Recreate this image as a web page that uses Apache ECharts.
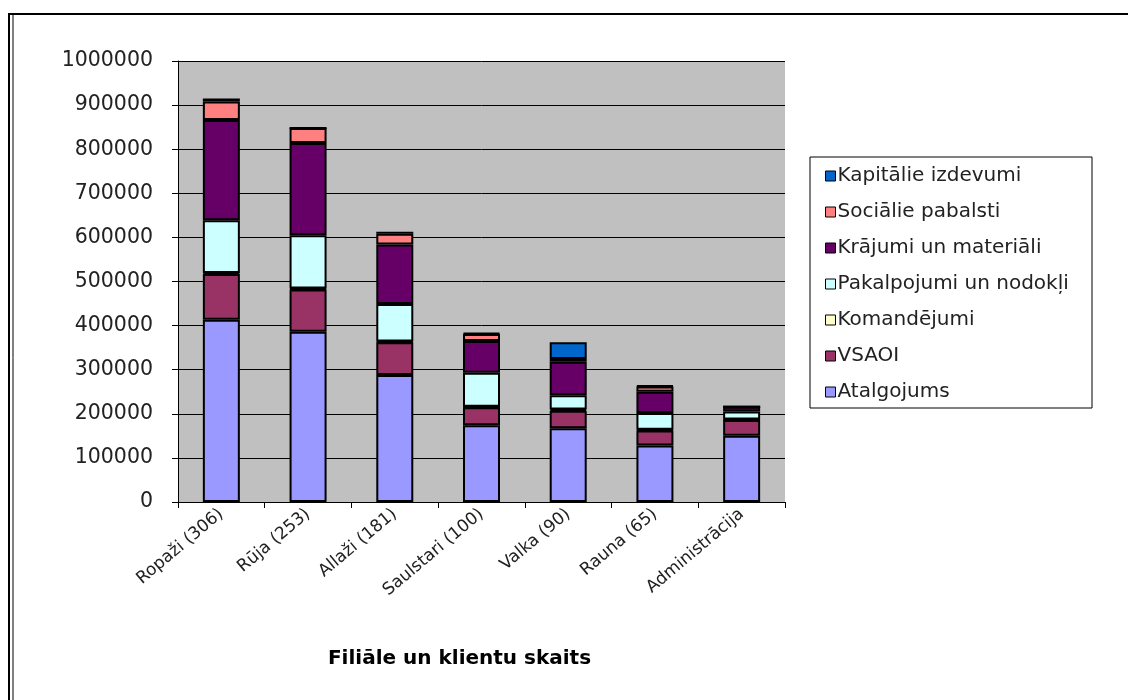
<!DOCTYPE html>
<html>
<head>
<meta charset="utf-8">
<script src="https://cdn.jsdelivr.net/npm/echarts@6/dist/echarts.min.js"></script>
<style>
html,body{margin:0;padding:0;background:#fff;}
#chart{width:1128px;height:700px;}
</style>
</head>
<body>
<div id="chart"></div>
<script>
const categories = ['Ropaži (306)','Rūja (253)','Allaži (181)','Saulstari (100)','Valka (90)','Rauna (65)','Administrācija'];
const atalgojums  = [413000, 386000, 288000, 174000, 167000, 128000, 150000];
const vsaoi       = [104000,  96000,  74000,  41000,  40000,  34000,  36000];
const komandejumi = [  2000,   2000,   2000,   1000,   3000,   2000,   1000];
const pakalpojumi = [120000, 121000,  85000,  77000,  32000,  38000,  18000];
const krajumi     = [227000, 209000, 135000,  72000,  76000,  48000,  11000];
const socialie    = [ 42000,  34000,  24000,  16000,   6000,  12000,      0];
const kapitalie   = [  7000,      0,   5000,   2000,  38000,   2000,      0];
const seriesNames = ['Atalgojums','VSAOI','Komandējumi','Pakalpojumi un nodokļi','Krājumi un materiāli','Sociālie pabalsti','Kapitālie izdevumi'];
const seriesData = [atalgojums, vsaoi, komandejumi, pakalpojumi, krajumi, socialie, kapitalie];
const seriesColors = ['#9999FF','#993366','#FFFFCC','#CCFFFF','#660066','#FF8080','#0066CC'];
const yTicks = {min: 0, max: 1000000, interval: 100000};
const xTitle = 'Filiāle un klientu skaits';

const chart = echarts.init(document.getElementById('chart'));
const font = 'DejaVu Sans';
const option = {
  backgroundColor: '#ffffff',
  animation: false,
  textStyle: {fontFamily: font},
  grid: {left: 178, top: 61, right: 343, bottom: 198, backgroundColor: '#C0C0C0', show: true, borderWidth: 0},
  xAxis: {
    type: 'category',
    data: categories,
    name: xTitle,
    nameLocation: 'middle',
    nameGap: 147,
    nameTextStyle: {fontSize: 20, fontWeight: 'bold', color: '#000', fontFamily: font, padding: [0, 44, 0, 0]},
    axisLine: {lineStyle: {color: '#000', width: 1}},
    axisTick: {show: true, alignWithLabel: false, length: 6, lineStyle: {color: '#000'}},
    axisLabel: {rotate: 40, fontSize: 17, color: '#222', margin: 10, fontFamily: font, interval: 0}
  },
  yAxis: {
    type: 'value',
    min: yTicks.min, max: yTicks.max, interval: yTicks.interval,
    axisLine: {show: true, lineStyle: {color: '#000', width: 1}},
    axisTick: {show: true, length: 6, lineStyle: {color: '#000'}},
    axisLabel: {fontSize: 20.5, color: '#222', margin: 25, fontFamily: font, formatter: v => String(v)},
    splitLine: {show: true, lineStyle: {color: '#000', width: 1}}
  },
  legend: {
    orient: 'vertical',
    left: 825,
    top: 166,
    padding: 0,
    itemWidth: 10,
    itemHeight: 10,
    itemGap: 16,
    icon: 'rect',
    data: seriesNames.slice().reverse(),
    textStyle: {fontSize: 20, lineHeight: 20, color: '#222', fontFamily: font, padding: [0,0,0,-3]},
    itemStyle: {borderColor: '#000', borderWidth: 1}
  },
  graphic: [
    {type: 'rect', shape: {x: 810, y: 157, width: 282, height: 251}, style: {fill: 'none', stroke: '#000', lineWidth: 1}, z: 0, silent: true},
    {type: 'rect', shape: {x: 9, y: 14, width: 1200, height: 800}, style: {fill: 'none', stroke: '#000', lineWidth: 2}, silent: true},
    {type: 'line', shape: {x1: 13, y1: 15, x2: 13, y2: 700}, style: {stroke: '#000', lineWidth: 1}, silent: true}
  ],
  series: seriesNames.map((n, i) => ({
    name: n,
    type: 'bar',
    stack: 'total',
    barWidth: 37,
    data: seriesData[i],
    itemStyle: {color: seriesColors[i], borderColor: '#000', borderWidth: 2}
  }))
};
chart.setOption(option);
</script>
</body>
</html>
